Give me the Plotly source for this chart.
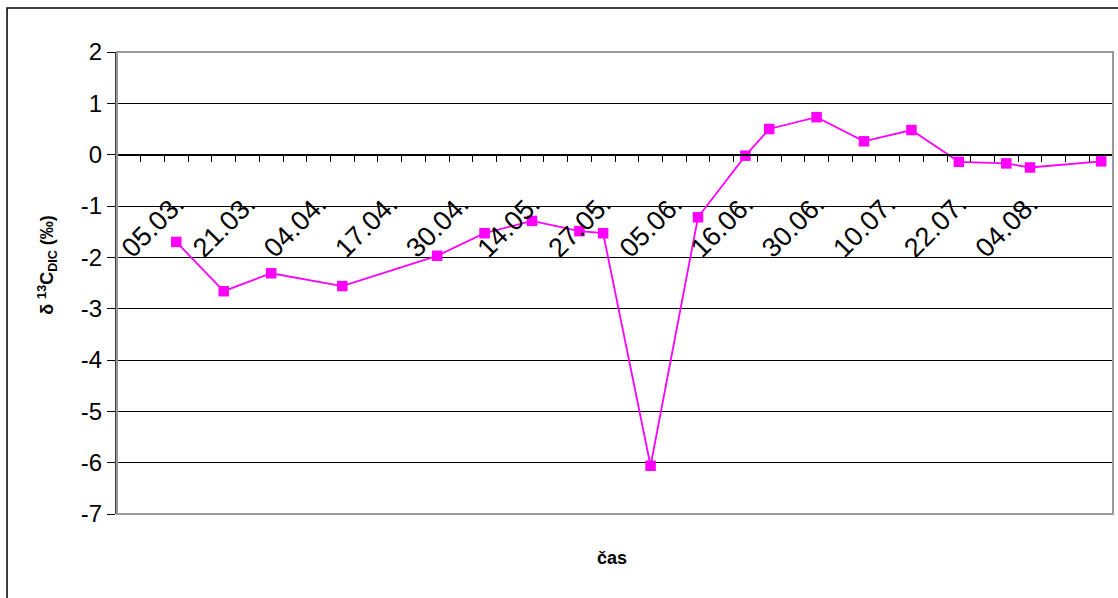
import plotly.graph_objects as go

# Sampling slots along the category axis (42 slots, some without a measurement)
n_slots = 42
sample_slot = [2, 4, 6, 9, 13, 15, 17, 19, 20, 22, 24, 26, 27, 29, 31, 33, 35, 37, 38, 41]
delta13c_dic = [-1.70, -2.66, -2.31, -2.56, -1.97, -1.53, -1.29, -1.49, -1.53, -6.06,
                -1.22, -0.02, 0.50, 0.73, 0.26, 0.48, -0.14, -0.17, -0.25, -0.13]

# Date labels shown on every third slot
label_slot = [2, 5, 8, 11, 14, 17, 20, 23, 26, 29, 32, 35, 38]
label_text = ["05.03.", "21.03.", "04.04.", "17.04.", "30.04.", "14.05.", "27.05.",
              "05.06.", "16.06.", "30.06.", "10.07.", "22.07.", "04.08."]

# Value axis ticks (plain hyphen for negatives)
y_ticks = [2, 1, 0, -1, -2, -3, -4, -5, -6, -7]
y_tick_text = ["2", "1", "0", "-1", "-2", "-3", "-4", "-5", "-6", "-7"]

y_min, y_max = -7, 2
FONT = "Arial, Liberation Sans, sans-serif"
MAGENTA = "#FF00FF"

fig = go.Figure(
    go.Scatter(
        x=sample_slot,
        y=delta13c_dic,
        mode="lines+markers",
        line=dict(color=MAGENTA, width=1.8),
        marker=dict(symbol="square", size=10.5, color=MAGENTA, line=dict(width=0)),
        showlegend=False,
    )
)

zero_pos = (0 - y_min) / (y_max - y_min)

fig.update_layout(
    width=1118,
    height=598,
    margin=dict(l=117, r=5, t=52, b=84),
    paper_bgcolor="white",
    plot_bgcolor="white",
    font=dict(family=FONT, color="black"),
    xaxis=dict(
        range=[-0.5, n_slots - 0.5],
        anchor="free",
        position=zero_pos,
        showgrid=False,
        zeroline=False,
        showline=True,
        linecolor="black",
        linewidth=1.5,
        tickmode="array",
        tickvals=label_slot,
        ticktext=label_text,
        ticks="",
        tickangle=-45,
        ticklabelstandoff=22,
        tickfont=dict(size=27, family=FONT, color="black"),
        minor=dict(
            tickmode="linear",
            tick0=-0.5,
            dtick=1,
            ticks="outside",
            ticklen=7,
            tickwidth=1.2,
            tickcolor="black",
            showgrid=False,
        ),
    ),
    yaxis=dict(
        range=[y_min, y_max],
        tickmode="array",
        tickvals=y_ticks,
        ticktext=y_tick_text,
        showgrid=True,
        gridcolor="black",
        gridwidth=1,
        zeroline=False,
        showline=True,
        linecolor="#404040",
        linewidth=2,
        ticks="outside",
        ticklen=8,
        tickcolor="black",
        tickwidth=1.2,
        tickfont=dict(size=24, family=FONT, color="black"),
    ),
    shapes=[
        # grey border of the plotting area
        dict(type="rect", xref="paper", yref="paper", x0=0, x1=1, y0=0, y1=1,
             line=dict(color="#999999", width=2), layer="above"),
        # outer chart frame
        dict(type="rect", xref="paper", yref="paper", x0=-0.1104, x1=1.05,
             y0=-0.3, y1=1.0952, line=dict(color="black", width=1.5)),
    ],
    annotations=[
        dict(text="<b>čas</b>", xref="paper", yref="paper", x=0.497, y=-0.095,
             xanchor="center", yanchor="middle", showarrow=False,
             font=dict(size=18, family=FONT, color="black")),
        dict(text="<b>δ <sup>13</sup>C<sub>DIC</sub> (‰)</b>", xref="paper", yref="paper",
             x=-0.07, y=0.54, xanchor="center", yanchor="middle", textangle=-90,
             showarrow=False, font=dict(size=18, family=FONT, color="black")),
    ],
)

fig.write_html("out.html")
